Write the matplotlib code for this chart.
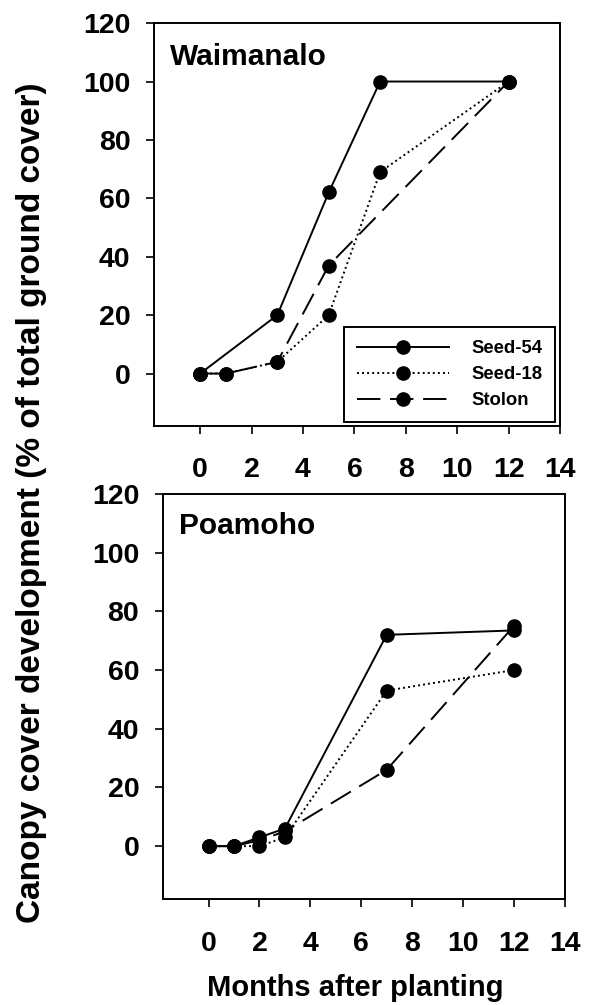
import numpy as np
import matplotlib
matplotlib.use("Agg")
import matplotlib.pyplot as plt

plt.rcParams['font.family'] = ['Liberation Sans', 'DejaVu Sans']
plt.rcParams['font.weight'] = 'bold'

# Waimanalo
w_seed54_x = [0, 3, 5, 7, 12]
w_seed54 = [0, 20, 62, 100, 100]
w_seed18_x = [0, 1, 3, 5, 7, 12]
w_seed18 = [0, 0, 4, 20, 69, 100]
w_stolon_x = [0, 1, 3, 5, 12]
w_stolon = [0, 0, 4, 37, 100]

# Poamoho
p_months = [0, 1, 2, 3, 7, 12]
p_seed54 = [0, 0, 3, 6, 72, 73.5]
p_seed18 = [0, 0, 0, 3, 53, 60]
p_stolon = [0, 0, 2, 5, 26, 75]

xticks = [0, 2, 4, 6, 8, 10, 12, 14]
yticks = [0, 20, 40, 60, 80, 100, 120]

styles = {
    'Seed-54': dict(linestyle='-'),
    'Seed-18': dict(linestyle=(0, (1, 1.6))),
    'Stolon': dict(linestyle=(0, (12, 5))),
}


def style_axis(ax, xpad):
    ax.set_xlim(-1.8, 14)
    ax.set_ylim(-18, 120)
    ax.set_xticks(xticks)
    ax.set_yticks(yticks)
    ax.tick_params(direction='out', length=6, width=1.2, labelsize=20.5)
    ax.tick_params(axis='x', pad=xpad)
    ax.tick_params(axis='y', pad=11)
    for lab in ax.get_xticklabels() + ax.get_yticklabels():
        lab.set_fontweight('bold')
    for s in ax.spines.values():
        s.set_linewidth(1.4)


def draw(ax, series):
    for name, x, y in series:
        ax.plot(x, y, color='black', lw=1.4, marker='o', ms=9.5,
                mfc='black', mec='black', label=name, **styles[name])


fig = plt.figure(figsize=(5.92, 10.05), dpi=100)
ax1 = fig.add_axes([0.260, 0.576, 0.686, 0.401])
ax2 = fig.add_axes([0.275, 0.1055, 0.679, 0.403])

draw(ax1, [('Seed-54', w_seed54_x, w_seed54),
           ('Seed-18', w_seed18_x, w_seed18),
           ('Stolon', w_stolon_x, w_stolon)])
draw(ax2, [('Seed-54', p_months, p_seed54),
           ('Seed-18', p_months, p_seed18),
           ('Stolon', p_months, p_stolon)])

style_axis(ax1, 16)
style_axis(ax2, 17)

ax1.text(0.04, 0.915, 'Waimanalo', transform=ax1.transAxes, fontsize=21.5,
         fontweight='bold', va='center', ha='left')
ax2.text(0.04, 0.92, 'Poamoho', transform=ax2.transAxes, fontsize=21.5,
         fontweight='bold', va='center', ha='left')

leg = ax1.legend(loc='lower right', bbox_to_anchor=(0.997, 0.0),
                 fontsize=13.3, handlelength=5.0, handletextpad=1.2,
                 labelspacing=0.5, borderpad=0.7, fancybox=False,
                 framealpha=1, edgecolor='black', borderaxespad=0.2)
leg.get_frame().set_linewidth(1.4)
for t in leg.get_texts():
    t.set_fontweight('bold')

fig.text(0.053, 0.50, 'Canopy cover development (% of total ground cover)',
         rotation=90, fontsize=24, fontweight='bold', va='center', ha='center')
fig.text(0.60, 0.017, 'Months after planting', fontsize=21,
         fontweight='bold', va='center', ha='center')

fig.savefig('out.png', dpi=100)
